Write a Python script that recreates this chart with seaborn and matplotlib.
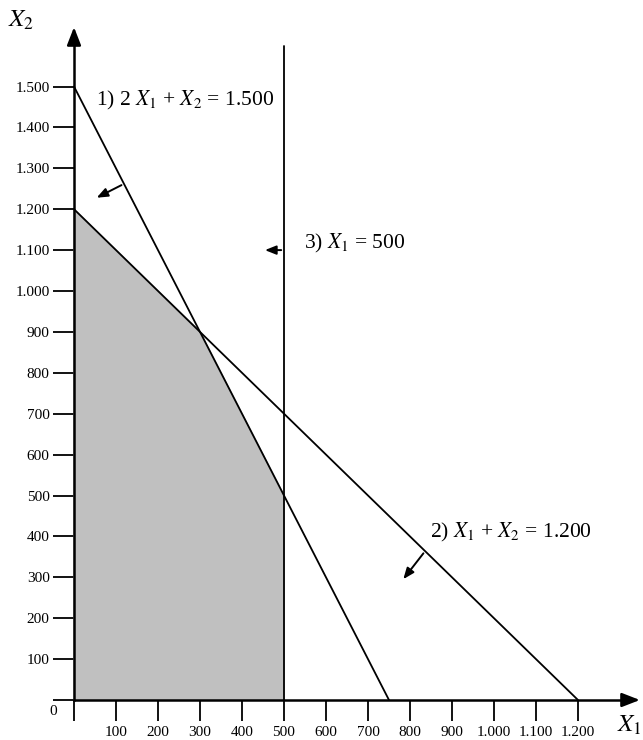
import numpy as np
import matplotlib
matplotlib.use("Agg")
import matplotlib.pyplot as plt
import seaborn as sns

# Ticks on both axes
x1_ticks = [0, 100, 200, 300, 400, 500, 600, 700, 800, 900, 1000, 1100, 1200]
x2_ticks = [0, 100, 200, 300, 400, 500, 600, 700, 800, 900, 1000, 1100, 1200, 1300, 1400, 1500]

# Constraints: a1*X1 + a2*X2 = rhs
c1 = {"a1": 2, "a2": 1, "rhs": 1500}
c2 = {"a1": 1, "a2": 1, "rhs": 1200}
c3_x1 = 500
c3_top = 1600

# Feasible region corners
region_x1 = [0, 0, 300, 500, 500]
region_x2 = [0, 1200, 900, 500, 0]


def fmt(v):
    return f"{v:,}".replace(",", ".")


sns.set_theme(style="ticks")
plt.rcParams["font.family"] = ["Liberation Serif", "DejaVu Serif"]
plt.rcParams["mathtext.fontset"] = "stix"
plt.rcParams["text.color"] = "black"

fig = plt.figure(figsize=(6.43, 7.4), dpi=100)
ax = fig.add_axes([0, 0, 1, 1])
ax.set_xlim(-176.2, 1354.8)
ax.set_ylim(-97.8, 1711.5)

# shaded feasible region
ax.fill(region_x1, region_x2, color="#c0c0c0", zorder=1)

# constraint lines
line_kw = dict(ax=ax, color="black", linewidth=1.3, sort=False, estimator=None, zorder=3)
for c in (c1, c2):
    xs = np.array([0, c["rhs"] / c["a1"]])
    ys = (c["rhs"] - c["a1"] * xs) / c["a2"]
    sns.lineplot(x=xs, y=ys, **line_kw)
sns.lineplot(x=[c3_x1, c3_x1], y=[0, c3_top], **line_kw)

# axes as spines through the origin
for side in ("top", "right"):
    ax.spines[side].set_visible(False)
ax.spines["left"].set_position(("data", 0))
ax.spines["bottom"].set_position(("data", 0))
ax.spines["left"].set_bounds(0, 1620)
ax.spines["bottom"].set_bounds(0, 1320)
for side in ("left", "bottom"):
    ax.spines[side].set_linewidth(1.8)
    ax.spines[side].set_color("black")
    ax.spines[side].set_zorder(4)

ax.annotate("", xy=(0, 1652), xytext=(0, 1600),
            arrowprops=dict(arrowstyle="-|>,head_length=0.9,head_width=0.35", color="black", lw=1.8))
ax.annotate("", xy=(1354, 0), xytext=(1300, 0),
            arrowprops=dict(arrowstyle="-|>,head_length=0.9,head_width=0.35", color="black", lw=1.8),
            annotation_clip=False)

ax.set_xticks(x1_ticks)
ax.set_xticklabels(["" if v == 0 else fmt(v) for v in x1_ticks])
ax.set_yticks(x2_ticks)
ax.set_yticklabels(["" if v == 0 else fmt(v) for v in x2_ticks])
ax.tick_params(axis="both", direction="out", length=15, width=1.3, color="black",
               labelsize=11, labelcolor="black")
ax.tick_params(axis="x", pad=4)
ax.tick_params(axis="y", pad=2.5)
ax.text(-50, -27, "0", fontsize=11, ha="center", va="center")

# axis names
ax.text(-125, 1662, r"$X_2$", fontsize=18, ha="center", va="center")
ax.text(1322, -62, r"$X_1$", fontsize=18, ha="center", va="center")

# constraint labels
ax.text(52, 1467, r"1) 2 $X_1$ + $X_2$ = 1.500", fontsize=15.5, ha="left", va="center")
ax.text(548, 1117, r"3) $X_1$ = 500", fontsize=15.5, ha="left", va="center")
ax.text(848, 410, r"2) $X_1$ + $X_2$ = 1.200", fontsize=15.5, ha="left", va="center")

# direction arrows
arrow = dict(arrowstyle="-|>,head_length=0.55,head_width=0.22", color="black", lw=1.4)
ax.annotate("", xy=(48, 1225), xytext=(119, 1262), arrowprops=arrow)
ax.annotate("", xy=(448, 1100), xytext=(500, 1100), arrowprops=arrow)
ax.annotate("", xy=(780, 290), xytext=(836, 364), arrowprops=arrow)

fig.savefig("out.png", dpi=100)
